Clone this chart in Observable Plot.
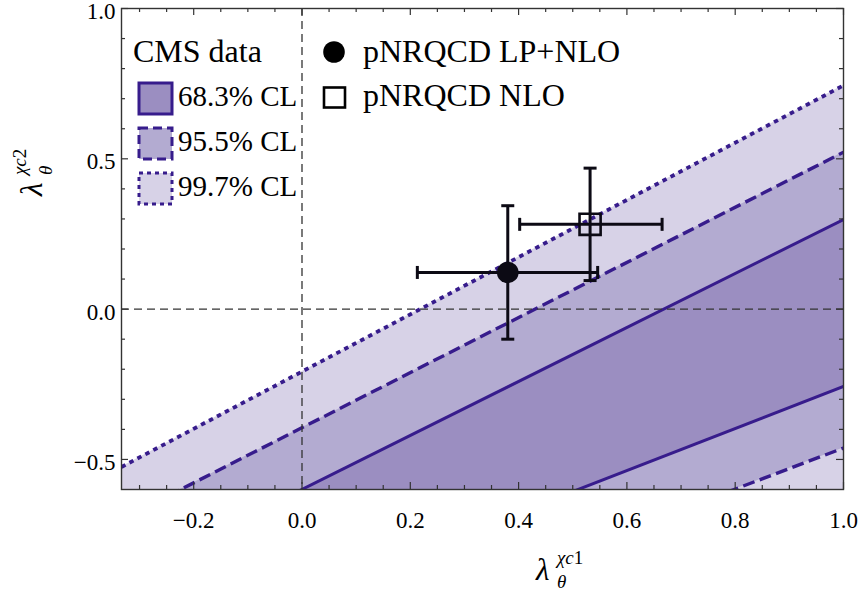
<!DOCTYPE html>
<html>
<head>
<meta charset="utf-8">
<script src="https://cdn.jsdelivr.net/npm/d3@7"></script>
<script src="https://cdn.jsdelivr.net/npm/@observablehq/plot@0.6"></script>
<style>
  body { margin: 0; background: #fff; }
  #chart svg { display: block; }
</style>
</head>
<body>
<div id="chart"></div>
<script>
// ---- data ----
// contour boundary lines, given at the left and right edges of the frame
const bandX      = [-1/3, 1.0];
const dotUpper   = [-0.525, 0.744];   // 99.7% CL upper edge
const dotLower   = [-1.60, -0.72];    // 99.7% CL lower edge (outside view)
const dashUpper  = [-0.700, 0.522];   // 95.5% CL upper edge
const dashLower  = [-1.373, -0.462];  // 95.5% CL lower edge
const solidUpper = [-0.899, 0.298];   // 68.3% CL upper edge
const solidLower = [-1.190, -0.257];  // 68.3% CL lower edge

// theory points
const models = ["pNRQCD LP+NLO", "pNRQCD NLO"];
const ptX    = [0.380, 0.532];
const ptXlo  = [0.213, 0.402];
const ptXhi  = [0.546, 0.665];
const ptY    = [0.122, 0.282];
const ptYlo  = [-0.100, 0.095];
const ptYhi  = [0.344, 0.469];

// ticks
const xMajor = [-0.2, 0.0, 0.2, 0.4, 0.6, 0.8, 1.0];
const xMinor = [-0.3, -0.25, -0.15, -0.1, -0.05, 0.05, 0.1, 0.15, 0.25, 0.3, 0.35, 0.45, 0.5, 0.55, 0.65, 0.7, 0.75, 0.85, 0.9, 0.95];
const yMajor = [-0.5, 0.0, 0.5, 1.0];
const yMinor = [-0.4, -0.3, -0.2, -0.1, 0.1, 0.2, 0.3, 0.4, 0.6, 0.7, 0.8, 0.9];

const clLabels = ["68.3% CL", "95.5% CL", "99.7% CL"];

// ---- styles ----
const lineColor = "#371c8c";
const fillDark  = "#9b8ec1";
const fillMid   = "#b3abd1";
const fillLight = "#d7d2e7";
const ink       = "#0c0a14";
const axisInk   = "#333";
const FONT = "'Liberation Serif', 'DejaVu Serif', serif";

const W = 863, H = 593, ML = 121, MR = 20, MT = 8, MB = 104;
const FW = W - ML - MR, FH = H - MT - MB;

const band = (lo, hi) => bandX.map((x, i) => ({x, lo: lo[i], hi: hi[i]}));
const line = (ys) => bandX.map((x, i) => ({x, y: ys[i]}));
const pts = models.map((m, i) => ({m, x: ptX[i], xlo: ptXlo[i], xhi: ptXhi[i], y: ptY[i], ylo: ptYlo[i], yhi: ptYhi[i]}));

const capV = {draw(ctx, size) { const h = Math.sqrt(size / Math.PI); ctx.moveTo(0, -h); ctx.lineTo(0, h); }};
const capH = {draw(ctx, size) { const h = Math.sqrt(size / Math.PI); ctx.moveTo(-h, 0); ctx.lineTo(h, 0); }};

const fmt = d3.format(".1f");
const id = d => d;
const lineOpts = (extra) => ({x: "x", y: "y", stroke: lineColor, strokeLinecap: "butt", strokeLinejoin: "miter", clip: true, ...extra});

const chart = Plot.plot({
  width: W,
  height: H,
  marginLeft: ML,
  marginRight: MR,
  marginTop: MT,
  marginBottom: MB,
  style: `font-family: ${FONT}; font-size: 23px; background: #fff; color: #000;`,
  x: {domain: [-1/3, 1.0], axis: null},
  y: {domain: [-0.6, 1.0], axis: null},
  marks: [
    Plot.areaY(band(dotLower, dotUpper), {x: "x", y1: "lo", y2: "hi", fill: fillLight, clip: true}),
    Plot.areaY(band(dashLower, dashUpper), {x: "x", y1: "lo", y2: "hi", fill: fillMid, clip: true}),
    Plot.areaY(band(solidLower, solidUpper), {x: "x", y1: "lo", y2: "hi", fill: fillDark, clip: true}),
    Plot.line(line(dotUpper), lineOpts({strokeWidth: 3.8, strokeDasharray: "4.5,4.5"})),
    Plot.line(line(dashUpper), lineOpts({strokeWidth: 3.4, strokeDasharray: "12,5.5"})),
    Plot.line(line(dashLower), lineOpts({strokeWidth: 3.4, strokeDasharray: "12,5.5"})),
    Plot.line(line(solidUpper), lineOpts({strokeWidth: 3})),
    Plot.line(line(solidLower), lineOpts({strokeWidth: 3})),
    Plot.ruleX([0], {stroke: axisInk, strokeWidth: 1.3, strokeDasharray: "8,5"}),
    Plot.ruleY([0], {stroke: axisInk, strokeWidth: 1.3, strokeDasharray: "8,5"}),
    // error bars
    Plot.link(pts, {x1: "xlo", x2: "xhi", y1: "y", y2: "y", stroke: ink, strokeWidth: 3, strokeLinecap: "butt"}),
    Plot.link(pts, {x1: "x", x2: "x", y1: "ylo", y2: "yhi", stroke: ink, strokeWidth: 3, strokeLinecap: "butt"}),
    Plot.dot(pts, {x: "xlo", y: "y", symbol: capV, r: 6.5, stroke: ink, strokeWidth: 3}),
    Plot.dot(pts, {x: "xhi", y: "y", symbol: capV, r: 6.5, stroke: ink, strokeWidth: 3}),
    Plot.dot(pts, {x: "x", y: "ylo", symbol: capH, r: 6.5, stroke: ink, strokeWidth: 3}),
    Plot.dot(pts, {x: "x", y: "yhi", symbol: capH, r: 6.5, stroke: ink, strokeWidth: 3}),
    Plot.dot(pts.slice(0, 1), {x: "x", y: "y", r: 10.8, fill: ink, stroke: "none"}),
    Plot.dot(pts.slice(1, 2), {x: "x", y: "y", r: 11.9, symbol: "square", fill: "none", stroke: ink, strokeWidth: 2.6}),
    // inward ticks on all four sides
    Plot.tickX(xMinor, {x: id, insetTop: FH - 4, stroke: axisInk, strokeWidth: 1.2}),
    Plot.tickX(xMajor, {x: id, insetTop: FH - 7, stroke: axisInk, strokeWidth: 1.2}),
    Plot.tickX(xMinor, {x: id, insetBottom: FH - 4, stroke: axisInk, strokeWidth: 1.2}),
    Plot.tickX(xMajor, {x: id, insetBottom: FH - 7, stroke: axisInk, strokeWidth: 1.2}),
    Plot.tickY(yMinor, {y: id, insetRight: FW - 4, stroke: axisInk, strokeWidth: 1.2}),
    Plot.tickY(yMajor, {y: id, insetRight: FW - 7, stroke: axisInk, strokeWidth: 1.2}),
    Plot.tickY(yMinor, {y: id, insetLeft: FW - 4, stroke: axisInk, strokeWidth: 1.2}),
    Plot.tickY(yMajor, {y: id, insetLeft: FW - 7, stroke: axisInk, strokeWidth: 1.2}),
    // tick labels
    Plot.axisX({ticks: xMajor, anchor: "bottom", tickSize: 0, tickPadding: 22, fontSize: 23, fontFamily: FONT, tickFormat: fmt, label: null}),
    Plot.axisY({ticks: yMajor, anchor: "left", tickSize: 0, tickPadding: 6, fontSize: 23, fontFamily: FONT, dy: 3, tickFormat: fmt, label: null}),
    Plot.frame({stroke: axisInk, strokeWidth: 1.4})
  ]
});

document.getElementById("chart").appendChild(chart);

const svg = d3.select(chart);
// make sure tick labels use the serif face at the intended size
svg.selectAll("g[aria-label$='tick label']").attr("font-family", FONT).attr("font-size", 23)
  .selectAll("text").style("font-family", FONT).style("font-size", "23px");

// ---- axis titles and legend (drawn into the same SVG) ----
const g = svg.append("g").attr("font-family", FONT).attr("fill", "#000").attr("text-anchor", "start");

// x-axis title  λ_θ^{χ c1}
const xl = g.append("g").attr("transform", "translate(536,580)");
xl.append("text").attr("font-size", 31).attr("font-style", "italic").text("λ");
const xs = xl.append("text").attr("x", 21).attr("y", -16).attr("font-size", 19);
xs.append("tspan").attr("font-style", "italic").text("χ");
xs.append("tspan").attr("font-style", "italic").text("c");
xs.append("tspan").text("1");
xl.append("text").attr("x", 21).attr("y", 8).attr("font-size", 19).attr("font-style", "italic").text("θ");

// y-axis title  λ_θ^{χ c2}
const yl = g.append("g").attr("transform", "translate(42,196) rotate(-90)");
yl.append("text").attr("font-size", 31).attr("font-style", "italic").text("λ");
const ys = yl.append("text").attr("x", 21).attr("y", -16).attr("font-size", 19);
ys.append("tspan").attr("font-style", "italic").text("χ");
ys.append("tspan").attr("font-style", "italic").text("c");
ys.append("tspan").text("2");
yl.append("text").attr("x", 21).attr("y", 10).attr("font-size", 19).attr("font-style", "italic").text("θ");

// CMS legend
g.append("text").attr("x", 133).attr("y", 62).attr("font-size", 32).text("CMS data");
const swFill = [fillDark, fillMid, fillLight];
const swDash = [null, "9,5", "4,4"];
const swTop = [83, 128, 173];
const swBase = [106, 151, 196];
clLabels.forEach((lab, i) => {
  g.append("rect").attr("x", 139).attr("y", swTop[i]).attr("width", 33).attr("height", 31)
    .attr("fill", swFill[i]).attr("stroke", lineColor).attr("stroke-width", 3)
    .attr("stroke-dasharray", swDash[i]);
  g.append("text").attr("x", 178).attr("y", swBase[i]).attr("font-size", 29).text(lab);
});

// model legend
g.append("circle").attr("cx", 334).attr("cy", 52).attr("r", 10.8).attr("fill", "#000");
g.append("rect").attr("x", 324).attr("y", 87.5).attr("width", 21).attr("height", 20)
  .attr("fill", "none").attr("stroke", "#000").attr("stroke-width", 2.6);
g.append("text").attr("x", 363).attr("y", 62).attr("font-size", 32).text(models[0]);
g.append("text").attr("x", 363).attr("y", 106).attr("font-size", 32).text(models[1]);
</script>
</body>
</html>
